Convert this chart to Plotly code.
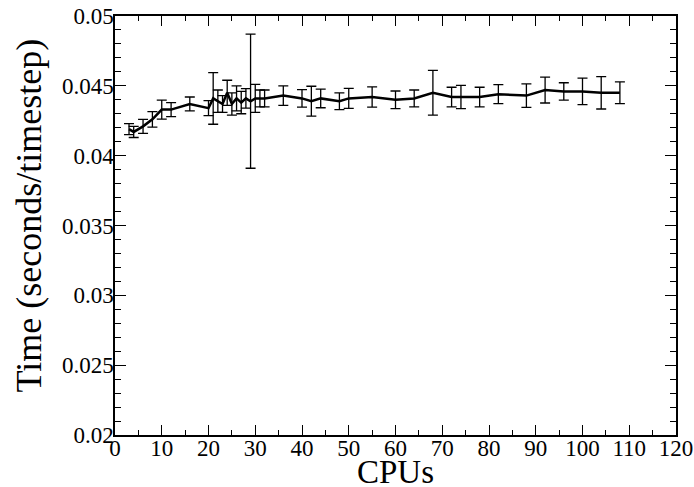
import plotly.graph_objects as go

cpus = [3, 4, 6, 8, 10, 12, 16, 20, 21, 22, 23, 24, 25, 26, 27, 28, 29, 30, 31, 32,
        36, 40, 42, 44, 48, 50, 55, 60, 64, 68, 72, 74, 78, 82, 88, 92, 96, 100, 104, 108]
time = [0.0419, 0.0417, 0.0421, 0.0426, 0.0433, 0.0433, 0.0437, 0.0434, 0.0441, 0.0439,
        0.0437, 0.0445, 0.0437, 0.0441, 0.0438, 0.0441, 0.0439, 0.0441, 0.0441, 0.0441,
        0.0443, 0.0441, 0.0439, 0.0441, 0.0439, 0.0441, 0.0442, 0.0440, 0.0441, 0.0445,
        0.0442, 0.0442, 0.0442, 0.0444, 0.0443, 0.0447, 0.0446, 0.0446, 0.0445, 0.0445]
err = [0.0004, 0.0004, 0.0005, 0.00056, 0.00068, 0.0005, 0.0005, 0.00054, 0.00185, 0.0008,
       0.0006, 0.0009, 0.0008, 0.0009, 0.0008, 0.0007, 0.0048, 0.001, 0.0006, 0.0006,
       0.0007, 0.00063, 0.00107, 0.00067, 0.0006, 0.00072, 0.00072, 0.00063, 0.0006, 0.0016,
       0.0007, 0.00083, 0.0007, 0.00068, 0.00084, 0.00093, 0.00062, 0.00095, 0.00116, 0.00078]

x_ticks = list(range(0, 121, 10))
y_ticks = [0.02, 0.025, 0.03, 0.035, 0.04, 0.045, 0.05]
y_tick_labels = ["0.02", "0.025", "0.03", "0.035", "0.04", "0.045", "0.05"]

fig = go.Figure()
fig.add_trace(go.Scatter(
    x=cpus, y=time, mode="lines",
    line=dict(color="black", width=2.5),
    error_y=dict(type="data", array=err, visible=True, color="black",
                 thickness=1.3, width=5),
    showlegend=False,
))

FF = "Liberation Serif"
fig.update_layout(
    width=694, height=487,
    margin=dict(l=115, r=18, t=16, b=52),
    paper_bgcolor="white", plot_bgcolor="white",
    font=dict(family=FF, color="black"),
)
fig.update_xaxes(
    range=[0, 120], tickvals=x_ticks, automargin=False, ticklabelstandoff=-8,
    ticks="inside", ticklen=10, tickwidth=1.3, tickcolor="black",
    minor=dict(dtick=5, ticks="inside", ticklen=5, tickwidth=1.3, tickcolor="black", showgrid=False),
    showline=True, linecolor="black", linewidth=1.5, mirror="ticks",
    showgrid=False, zeroline=False,
    tickfont=dict(size=23, family=FF, color="black"),
)
fig.update_yaxes(
    range=[0.02, 0.05], tickvals=y_ticks, ticktext=y_tick_labels, automargin=False,
    ticklabelstandoff=-5,
    ticks="inside", ticklen=11, tickwidth=1.3, tickcolor="black",
    minor=dict(dtick=0.001, ticks="inside", ticklen=6, tickwidth=1.3, tickcolor="black", showgrid=False),
    showline=True, linecolor="black", linewidth=1.5, mirror="ticks",
    showgrid=False, zeroline=False,
    tickfont=dict(size=23, family=FF, color="black"),
)
fig.add_annotation(text="CPUs", xref="paper", yref="paper", x=0.5, y=0,
                   xanchor="center", yanchor="middle", yshift=-37, showarrow=False,
                   borderpad=0,
                   font=dict(size=33, family=FF, color="black"))
fig.add_annotation(text="Time (seconds/timestep)", xref="paper", yref="paper", x=0, y=0.5,
                   xanchor="center", yanchor="middle", xshift=-87, yshift=10, textangle=-90,
                   showarrow=False, borderpad=0, font=dict(size=36, family=FF, color="black"))

fig.write_html("out.html", config={"displayModeBar": False},
               post_script="document.body.style.margin='0px';")
